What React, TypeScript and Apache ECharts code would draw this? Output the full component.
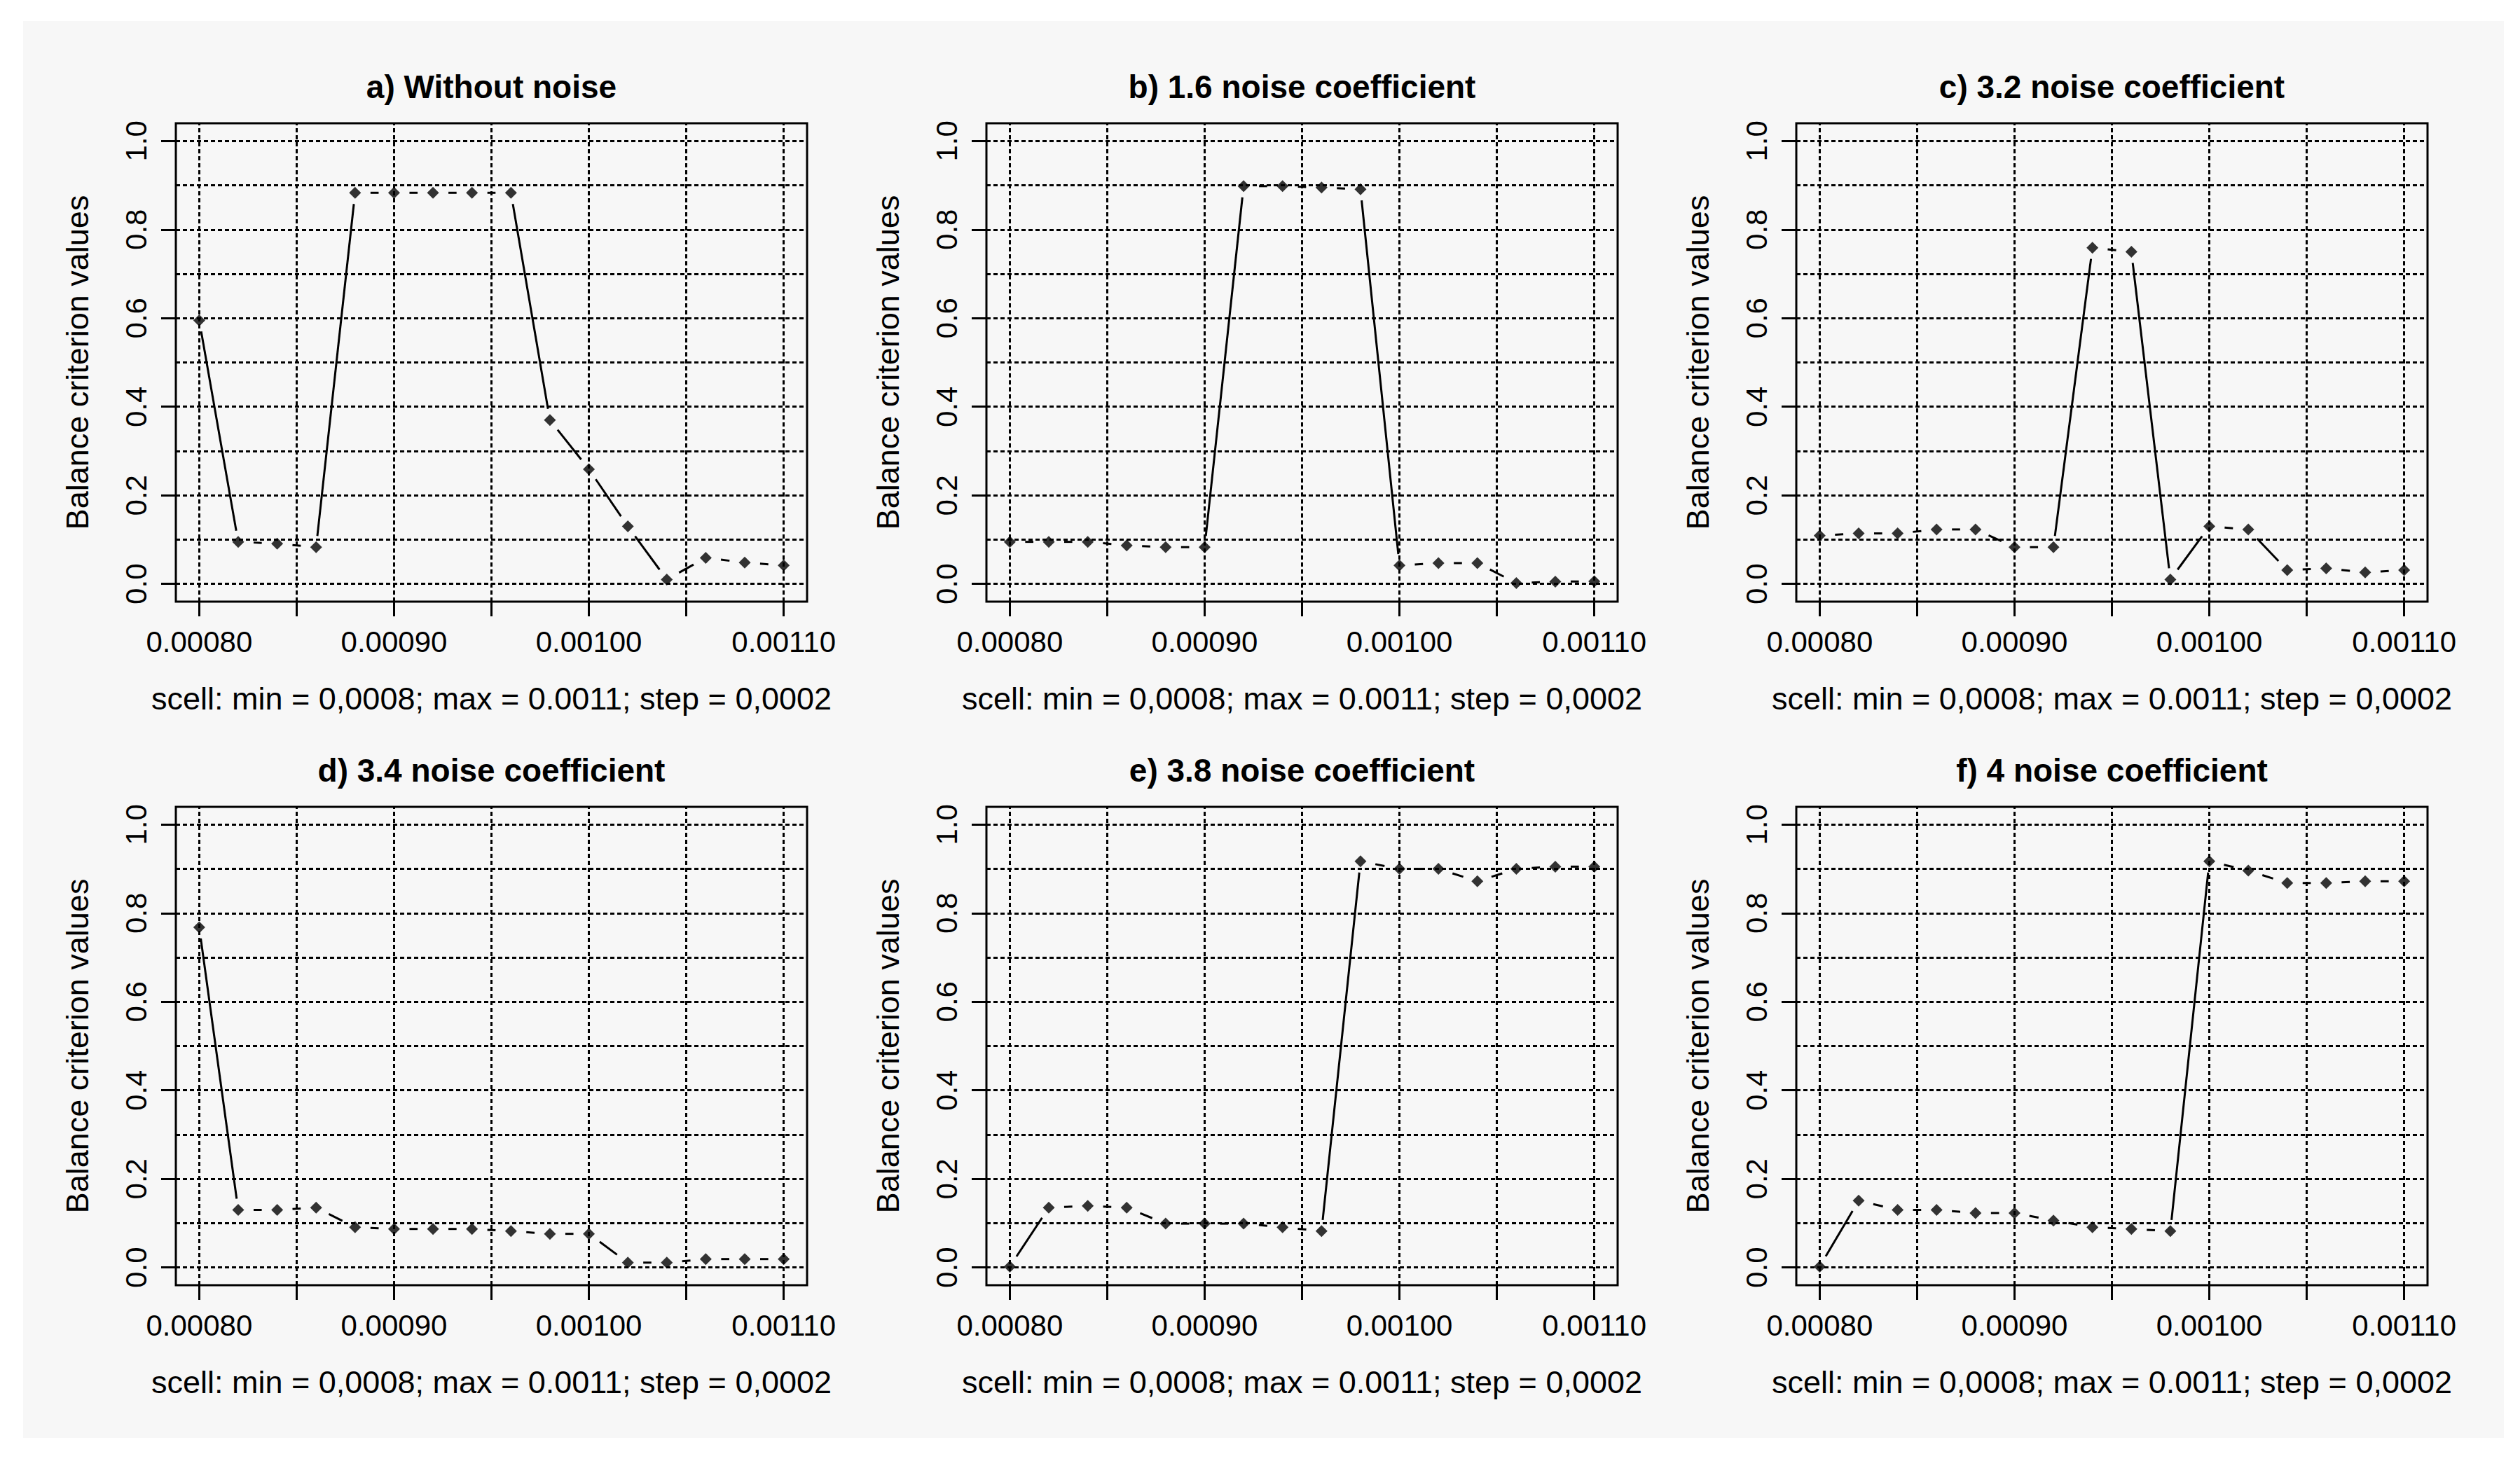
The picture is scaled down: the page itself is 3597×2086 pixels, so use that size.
import React, { useEffect, useRef } from "react";
import * as echarts from "echarts";

// ---------- data ----------
const SCELL = [
  0.0008, 0.00082, 0.00084, 0.00086, 0.00088, 0.0009, 0.00092, 0.00094,
  0.00096, 0.00098, 0.001, 0.00102, 0.00104, 0.00106, 0.00108, 0.0011,
];

const TITLES = [
  "a) Without noise",
  "b) 1.6 noise coefficient",
  "c) 3.2 noise coefficient",
  "d) 3.4 noise coefficient",
  "e) 3.8 noise coefficient",
  "f) 4 noise coefficient",
];

const A_WITHOUT_NOISE = [0.595, 0.095, 0.091, 0.083, 0.883, 0.883, 0.883, 0.883, 0.883, 0.37, 0.259, 0.13, 0.01, 0.059, 0.048, 0.042];
const B_NOISE_1_6 = [0.095, 0.095, 0.095, 0.087, 0.083, 0.083, 0.898, 0.898, 0.895, 0.891, 0.042, 0.047, 0.047, 0.002, 0.005, 0.006];
const C_NOISE_3_2 = [0.109, 0.114, 0.114, 0.123, 0.123, 0.083, 0.083, 0.759, 0.75, 0.01, 0.13, 0.123, 0.031, 0.035, 0.026, 0.031];
const D_NOISE_3_4 = [0.768, 0.13, 0.13, 0.135, 0.091, 0.087, 0.087, 0.087, 0.082, 0.076, 0.076, 0.011, 0.011, 0.019, 0.019, 0.019];
const E_NOISE_3_8 = [0.002, 0.135, 0.139, 0.135, 0.099, 0.099, 0.099, 0.091, 0.082, 0.917, 0.9, 0.9, 0.872, 0.9, 0.905, 0.905];
const F_NOISE_4 = [0.002, 0.151, 0.13, 0.13, 0.123, 0.123, 0.106, 0.091, 0.087, 0.082, 0.917, 0.896, 0.868, 0.868, 0.872, 0.872];

const SERIES_VALUES = [A_WITHOUT_NOISE, B_NOISE_1_6, C_NOISE_3_2, D_NOISE_3_4, E_NOISE_3_8, F_NOISE_4];

const X_TICKS = [0.0008, 0.00085, 0.0009, 0.00095, 0.001, 0.00105, 0.0011];
const X_LABELS = [0.0008, 0.0009, 0.001, 0.0011];
const Y_TICKS = [0, 0.2, 0.4, 0.6, 0.8, 1.0];
const Y_GRID = [0, 0.1, 0.2, 0.3, 0.4, 0.5, 0.6, 0.7, 0.8, 0.9, 1.0];
const X_NAME = "scell: min = 0,0008; max = 0.0011; step = 0,0002";
const Y_NAME = "Balance criterion values";

// ---------- layout ----------
const W = 3597;
const H = 2086;
const COL_LEFT = [251, 1408, 2564];
const ROW_TOP = [176, 1152];
const BOX_W = 901;
const BOX_H = 683;
const GAP_X = 22;
const GAP_Y = 16;
const FONT = "'Liberation Sans', Arial, Helvetica, sans-serif";

function buildOption() {
  const grid: any[] = [];
  const xAxis: any[] = [];
  const yAxis: any[] = [];
  const series: any[] = [];
  const graphic: any[] = [
    {
      type: "rect",
      z: -100,
      silent: true,
      shape: { x: 33, y: 30, width: 3541, height: 2023 },
      style: { fill: "#f7f7f7" },
    },
  ];

  SERIES_VALUES.forEach((vals, k) => {
    const row = Math.floor(k / 3);
    const col = k % 3;
    const left = COL_LEFT[col];
    const top = ROW_TOP[row];

    grid.push({
      left,
      top,
      width: BOX_W,
      height: BOX_H,
      show: true,
      borderColor: "#000",
      borderWidth: 3,
      backgroundColor: "transparent",
      containLabel: false,
    });

    xAxis.push({
      type: "value",
      gridIndex: k,
      min: 0.000788,
      max: 0.001112,
      axisLine: { show: false, onZero: false },
      splitLine: { show: false },
      axisTick: {
        show: true,
        customValues: X_TICKS,
        length: 21,
        inside: false,
        lineStyle: { color: "#000", width: 3 },
      },
      axisLabel: {
        show: true,
        customValues: X_LABELS,
        formatter: (v: number) => v.toFixed(5),
        margin: 36,
        color: "#000",
        fontSize: 42,
        fontFamily: FONT,
      },
      name: X_NAME,
      nameLocation: "middle",
      nameGap: 116,
      nameTextStyle: { color: "#000", fontSize: 45, fontFamily: FONT },
    });

    yAxis.push({
      type: "value",
      gridIndex: k,
      min: -0.04,
      max: 1.04,
      axisLine: { show: false, onZero: false },
      splitLine: { show: false },
      axisTick: {
        show: true,
        customValues: Y_TICKS,
        length: 21,
        inside: false,
        lineStyle: { color: "#000", width: 3 },
      },
      axisLabel: {
        show: true,
        customValues: Y_TICKS,
        formatter: (v: number) => v.toFixed(1),
        rotate: 90,
        margin: 36,
        color: "#000",
        fontSize: 42,
        fontFamily: FONT,
      },
      name: Y_NAME,
      nameLocation: "middle",
      nameRotate: 90,
      nameGap: 118,
      nameTextStyle: { color: "#000", fontSize: 45, fontFamily: FONT },
    });

    // segments with gaps around the points (R type = "b")
    const segData = SCELL.slice(0, -1).map((x, i) => [x, vals[i], SCELL[i + 1], vals[i + 1]]);
    series.push({
      type: "custom",
      xAxisIndex: k,
      yAxisIndex: k,
      silent: true,
      clip: false,
      encode: { x: [0, 2], y: [1, 3] },
      data: segData,
      z: 3,
      renderItem: (params: any, api: any) => {
        const p1 = api.coord([api.value(0), api.value(1)]);
        const p2 = api.coord([api.value(2), api.value(3)]);
        const dx = p2[0] - p1[0];
        const dy = p2[1] - p1[1];
        const len = Math.sqrt(dx * dx + dy * dy);
        if (len === 0) return { type: "group", children: [] };
        const ux = dx / len;
        const uy = dy / len;
        const g = 1 / Math.sqrt((ux / GAP_X) * (ux / GAP_X) + (uy / GAP_Y) * (uy / GAP_Y));
        if (len <= 2 * g + 1) return { type: "group", children: [] };
        return {
          type: "line",
          shape: {
            x1: p1[0] + ux * g,
            y1: p1[1] + uy * g,
            x2: p2[0] - ux * g,
            y2: p2[1] - uy * g,
          },
          style: { stroke: "#000", lineWidth: 3, fill: null },
        };
      },
    });

    series.push({
      type: "scatter",
      xAxisIndex: k,
      yAxisIndex: k,
      silent: true,
      symbol: "diamond",
      symbolSize: [17, 17],
      itemStyle: { color: "#000" },
      z: 4,
      data: SCELL.map((x, i) => [x, vals[i]]),
      markLine: {
        silent: true,
        precision: 8,
        symbol: ["none", "none"],
        label: { show: false },
        emphasis: { disabled: true },
        lineStyle: { color: "#000", type: [6, 4], width: 3 },
        data: [
          ...Y_GRID.map((v) => ({ yAxis: v })),
          ...X_TICKS.map((v) => ({ xAxis: v })),
        ],
      },
    });

    graphic.push({
      type: "text",
      silent: true,
      x: left + BOX_W / 2,
      y: top - 52,
      style: {
        text: TITLES[k],
        fill: "#000",
        font: `bold 46px ${FONT}`,
        textAlign: "center",
        textVerticalAlign: "middle",
      },
    });
  });

  return {
    animation: false,
    backgroundColor: "#ffffff",
    textStyle: { fontFamily: FONT },
    grid,
    xAxis,
    yAxis,
    series,
    graphic,
  };
}

export default function App() {
  const ref = useRef<HTMLDivElement>(null);
  useEffect(() => {
    document.body.style.margin = "0";
    document.body.style.overflow = "hidden";
    if (!ref.current) return;
    const chart = echarts.init(ref.current, undefined, { renderer: "svg" });
    chart.setOption(buildOption() as any);
    return () => chart.dispose();
  }, []);
  return (
    <div
      ref={ref}
      style={{ position: "absolute", left: 0, top: 0, width: W + "px", height: H + "px" }}
    />
  );
}
